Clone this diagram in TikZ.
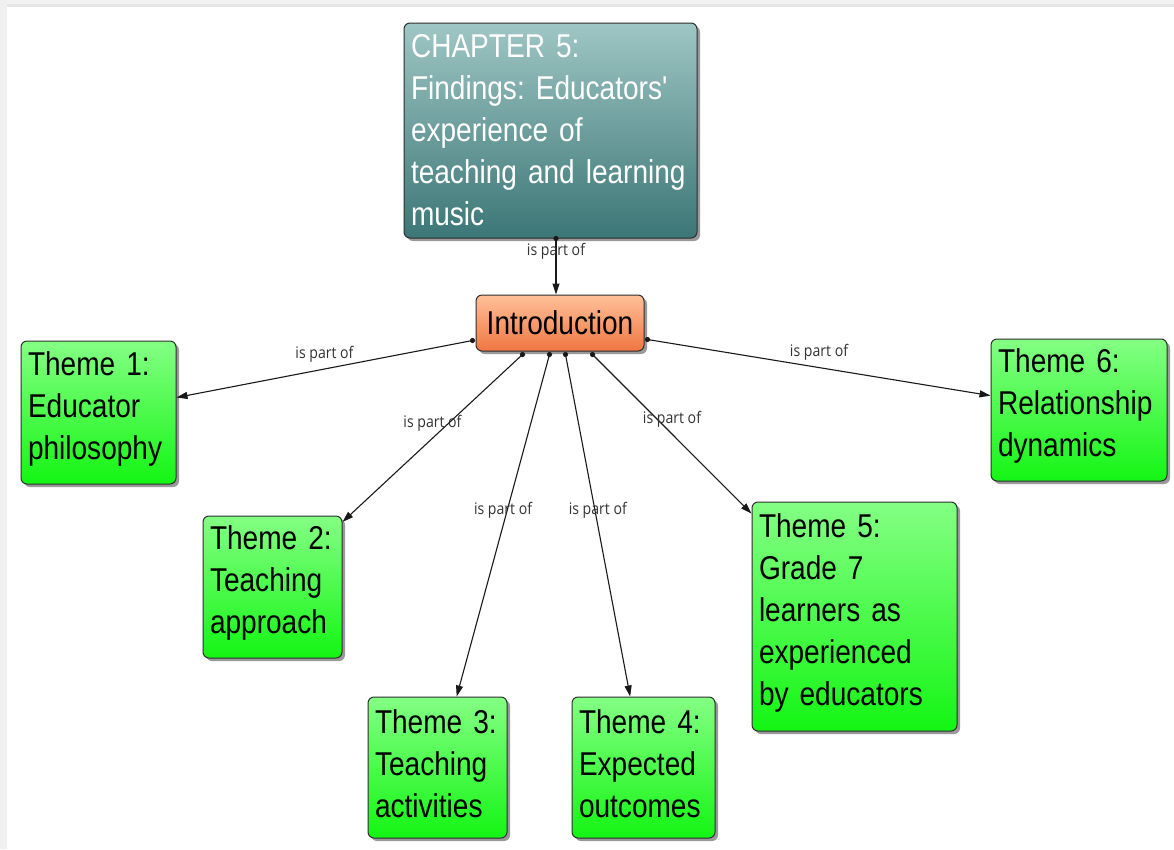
\documentclass[tikz,border=0pt]{standalone}
\usepackage{fontspec}
\setmainfont[FakeStretch=0.85,WordSpace=0.8,Ligatures=TeXOff]{Liberation Sans}
\newfontfamily\lblfont[FakeStretch=0.88]{Open Sans}
\usetikzlibrary{arrows.meta,shadows,calc}
\definecolor{greentop}{RGB}{132,255,132}
\definecolor{greenbot}{RGB}{20,245,20}
\definecolor{tealtop}{RGB}{158,198,196}
\definecolor{tealbot}{RGB}{60,118,118}
\definecolor{orangetop}{RGB}{255,192,152}
\definecolor{orangebot}{RGB}{240,118,66}
\definecolor{boxborder}{RGB}{45,45,45}
\definecolor{linecol}{RGB}{25,25,25}
\definecolor{lblcol}{RGB}{50,50,50}
\frenchspacing
\newcommand{\mytailgap}{\par\vspace*{8pt}}
\begin{document}
\begin{tikzpicture}[x=1pt,y=-1pt,
  box/.style={draw=boxborder, line width=1pt, rounded corners=6pt,
    inner xsep=7pt, inner ysep=0pt, align=left,
    font=\fontsize{33}{42}\selectfont,
    drop shadow={shadow xshift=3pt,shadow yshift=-3pt,opacity=0.4,fill=black}},
  theme/.style={box, top color=greentop, bottom color=greenbot, text=black,
    execute at end node=\mytailgap},
  conn/.style={draw=linecol, line width=1.1pt, -{Triangle[length=11pt,width=7pt]}},
  dot/.style={fill=linecol},
  lbl/.style={font=\lblfont\fontsize{16}{18}\selectfont, text=lblcol, yshift=15pt, inner sep=0pt}]
\useasboundingbox (0,0) rectangle (1174,849);
\fill[white] (0,0) rectangle (1174,849);
\fill[black!5] (0,0) rectangle (1174,4);
\fill[black!10] (7,4) rectangle (1174,7);
\fill[black!6] (0,0) rectangle (7,849);

\node[box, top color=tealtop, bottom color=tealbot, text=white,
  minimum width=293pt, minimum height=215pt, text width=279pt] (ch) at (550.5,130.5)
  {CHAPTER 5:\\Findings: Educators'\\experience of\\teaching and learning\\music};
\node[box, top color=orangetop, bottom color=orangebot, text=black, align=center,
  minimum width=168pt, minimum height=56pt] (intro) at (560,323) {Introduction};

\node[theme, minimum width=155pt, minimum height=143pt, text width=141pt] (t1) at (98.5,412.5)
  {Theme 1:\\Educator\\philosophy};
\node[theme, minimum width=139pt, minimum height=142pt, text width=125pt] (t2) at (272.5,587)
  {Theme 2:\\Teaching\\approach};
\node[theme, minimum width=139pt, minimum height=141pt, text width=125pt] (t3) at (437.5,767.5)
  {Theme 3:\\Teaching\\activities};
\node[theme, minimum width=143pt, minimum height=141pt, text width=129pt] (t4) at (643.5,767.5)
  {Theme 4:\\Expected\\outcomes};
\node[theme, minimum width=205pt, minimum height=229pt, text width=191pt] (t5) at (854.5,616.5)
  {Theme 5:\\Grade 7\\learners as\\experienced\\by educators};
\node[theme, minimum width=176pt, minimum height=142pt, text width=162pt] (t6) at (1079,410)
  {Theme 6:\\Relationship\\dynamics};

\coordinate (s0) at ($(ch.south)+(5.5,0)$);
\coordinate (s1) at ($(intro.south west)+(-3,-11)$);
\coordinate (s6) at ($(intro.south east)+(3,-12)$);
\coordinate (s2) at ($(intro.south west)+(47,3)$);
\coordinate (s3) at ($(intro.south west)+(74,3)$);
\coordinate (s4) at ($(intro.south west)+(90,3)$);
\coordinate (s5) at ($(intro.south west)+(117,3)$);

\draw[conn] (s0) -- (s0 |- intro.north) node[midway, lbl] {is part of};
\draw[conn] (s1) -- (t1) node[midway, lbl] {is part of};
\draw[conn] (s6) -- (t6) node[midway, lbl] {is part of};
\draw[conn] (s2) -- (t2) node[midway, lbl] {is part of};
\draw[conn] (s3) -- (t3) node[midway, lbl] {is part of};
\draw[conn] (s4) -- (t4) node[midway, lbl] {is part of};
\draw[conn] (s5) -- (t5) node[midway, lbl] {is part of};
\foreach \s in {s0,s1,s2,s3,s4,s5,s6} \fill[dot] (\s) circle (2.6pt);
\end{tikzpicture}
\end{document}
